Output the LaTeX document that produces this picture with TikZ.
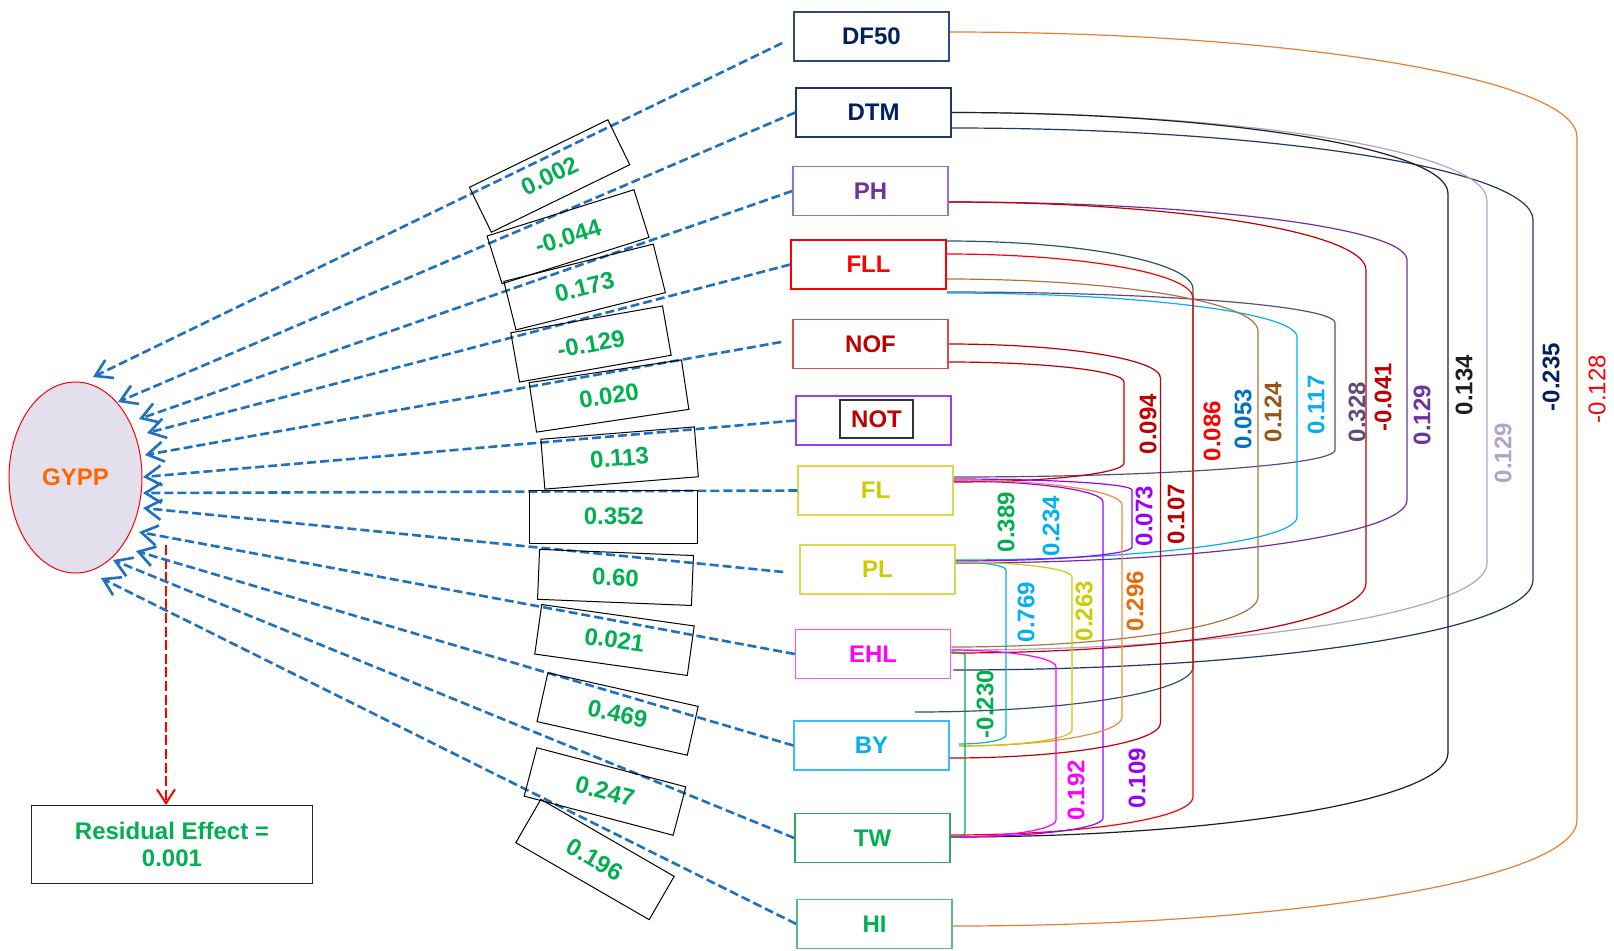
\documentclass[tikz,border=0pt]{standalone}
\usepackage{fontspec}
\setmainfont{Liberation Sans}
\usetikzlibrary{arrows.meta,calc,shapes.geometric}

\definecolor{cblue}{RGB}{30,112,192}
\definecolor{cgreen}{RGB}{0,176,80}
\definecolor{cnavy}{RGB}{0,32,96}
\definecolor{cnavyb}{RGB}{47,74,122}
\definecolor{cnavyl}{RGB}{31,56,100}
\definecolor{cpurple}{RGB}{112,48,160}
\definecolor{cpurpleb}{RGB}{153,112,204}
\definecolor{cdred}{RGB}{192,0,0}
\definecolor{cnofb}{RGB}{210,80,80}
\definecolor{cviolet}{RGB}{153,0,255}
\definecolor{cnotb}{RGB}{160,60,255}
\definecolor{cyel}{RGB}{204,204,0}
\definecolor{cyelb}{RGB}{217,217,80}
\definecolor{cmag}{RGB}{255,0,255}
\definecolor{cmagb}{RGB}{255,80,255}
\definecolor{cltb}{RGB}{0,176,240}
\definecolor{cltbb}{RGB}{60,190,240}
\definecolor{ctwb}{RGB}{40,170,100}
\definecolor{chib}{RGB}{90,190,130}
\definecolor{corange}{RGB}{237,125,49}
\definecolor{corangeb}{RGB}{238,140,60}
\definecolor{corangelab}{RGB}{228,108,10}
\definecolor{clav}{RGB}{179,162,199}
\definecolor{cgrayp}{RGB}{96,74,123}
\definecolor{cbrown}{RGB}{175,115,60}
\definecolor{cbrownlab}{RGB}{151,84,20}
\definecolor{cteal}{RGB}{40,85,105}
\definecolor{cblk}{RGB}{30,30,30}
\definecolor{cmidblue}{RGB}{0,112,192}
\definecolor{cgypp}{RGB}{255,102,0}
\definecolor{cell}{RGB}{228,223,236}

% #1 colour, #2 start point, #3 offset, #4 end point, #5 offset, #6 x of vertical run, #7 top radius, #8 bottom radius
\newcommand\corr[8]{%
  \draw[corrline,#1] let \p1=($(#2)+(#3)$), \p2=($(#4)+(#5)$), \n1={#6*0.5pt}, \n2={#7*0.5pt}, \n3={#8*0.5pt} in
    (\p1) .. controls ({\x1+0.552*(\n1-\x1)},\y1) and (\n1,{\y1-0.448*\n2}) .. (\n1,{\y1-\n2})
    -- (\n1,{\y2+\n3}) .. controls (\n1,{\y2+0.448*\n3}) and ({\x2+0.552*(\n1-\x2)},\y2) .. (\p2);%
}

\tikzset{
  var/.style={draw, line width=0.75pt, minimum width=77.5pt, minimum height=24.5pt, inner sep=0pt,
    font=\fontsize{12}{14}\selectfont\bfseries},
  coef/.style={draw=black, line width=0.5pt, minimum width=77pt, minimum height=25pt, inner sep=0pt,
    text=cgreen, font=\fontsize{12}{14}\selectfont\bfseries},
  patharrow/.style={draw=cblue, line width=1.3pt, dash pattern=on 4.5pt off 2pt,
    -{Straight Barb[length=8pt,width=10pt]}},
  corrline/.style={line width=0.6pt},
  vlab/.style={rotate=90, inner sep=0pt, font=\fontsize{12}{14}\selectfont\bfseries},
}

\begin{document}
\begin{tikzpicture}[x=0.5pt,y=-0.5pt]
\useasboundingbox (0,0) rectangle (1614,950);

% ---- result variable
\node[ellipse, draw=red, fill=cell, line width=0.5pt, minimum width=66.5pt, minimum height=95.5pt,
  inner sep=0pt, text=cgypp, font=\fontsize{12}{14}\selectfont\bfseries] (GYPP) at (75.5,477.5) {GYPP};

% ---- trait boxes
\node[var, draw=cnavyb, text=cnavy] (DF50) at (871.5,36.5) {DF50};
\node[var, draw=cnavyl, text=cnavy] (DTM) at (873.5,112.5) {DTM};
\node[var, draw=cpurpleb, text=cpurple] (PH) at (870.5,191) {PH};
\node[var, draw=red, text=red] (FLL) at (868.5,264.5) {FLL};
\node[var, draw=cnofb, text=cdred] (NOF) at (870.5,344) {NOF};
\node[var, draw=cnotb] (NOT) at (873.5,420.5) {};
\node[draw=black!80, line width=0.6pt, minimum width=36.5pt, minimum height=19pt, inner sep=0pt,
  text=cdred, font=\fontsize{12}{14}\selectfont\bfseries] (NOTlabel) at (876.5,419) {NOT};
\node[var, draw=cyelb, text=cyel] (FL) at (875.5,490.5) {FL};
\node[var, draw=cyelb, text=cyel] (PL) at (877.5,569.5) {PL};
\node[var, draw=cmagb, text=cmag] (EHL) at (873,654) {EHL};
\node[var, draw=cltbb, text=cltb] (BY) at (871.5,745.5) {BY};
\node[var, draw=ctwb, text=cgreen] (TW) at (872.5,838) {TW};
\node[var, draw=chib, text=cgreen] (HI) at (874.5,924) {HI};

% ---- residual
\node[draw=black!85, line width=0.6pt, minimum width=140.5pt, minimum height=38.8pt, align=center,
  text=cgreen, font=\fontsize{12}{13.3}\selectfont\bfseries] (resid) at (172,844.5) {Residual Effect =\\0.001};
\coordinate (resstart) at (166,545);
\draw[red, line width=1pt, dash pattern=on 5pt off 1.8pt, -{Straight Barb[length=7pt,width=9pt]}]
  (resstart) -- (resstart |- resid.north);

% ---- arrow tips on GYPP
\coordinate (g1) at (93,377);
\coordinate (g2) at (118,402);
\coordinate (g3) at (139,419);
\coordinate (g4) at (147,433);
\coordinate (g5) at (145,455);
\coordinate (g6) at (143,477);
\coordinate (g7) at (143,493);
\coordinate (g8) at (143,508);
\coordinate (g9) at (139,532);
\coordinate (g10) at (136,551);
\coordinate (g11) at (113,560);
\coordinate (g12) at (101,578);

\draw[patharrow] ($(DF50.west)+(-11,6.5)$) -- (g1);
\draw[patharrow] (DTM.west) -- (g2);
\draw[patharrow] (PH.west) -- (g3);
\draw[patharrow] (FLL.west) -- (g4);
\draw[patharrow] ($(NOF.west)+(-11,-2)$) -- (g5);
\draw[patharrow] (NOT.west) -- (g6);
\draw[patharrow] (FL.west) -- (g7);
\draw[patharrow] ($(PL.west)+(-16,2.5)$) -- (g8);
\draw[patharrow] (EHL.west) -- (g9);
\draw[patharrow] (BY.west) -- (g10);
\draw[patharrow] (TW.west) -- (g11);
\draw[patharrow] (HI.west) -- (g12);

% ---- direct effect labels
\node[coef, rotate=26] (c1) at (549.6,176) {0.002};
\node[coef, rotate=17.5] (c2) at (568,236.7) {-0.044};
\node[coef, rotate=14] (c3) at (584.6,287) {0.173};
\node[coef, rotate=10] (c4) at (591,344) {-0.129};
\node[coef, rotate=8.5] (c5) at (609,396) {0.020};
\node[coef, rotate=4.6] (c6) at (619.6,458) {0.113};
\node[coef, minimum width=84pt, minimum height=26.5pt] (c7) at (613.8,516.7) {0.352};
\node[coef, rotate=-2.3] (c8) at (615.5,577.4) {0.60};
\node[coef, rotate=-8] (c9) at (614.5,640) {0.021};
\node[coef, rotate=-12.6] (c10) at (617.6,714) {0.469};
\node[coef, rotate=-14.7] (c11) at (605,791.5) {0.247};
\node[coef, rotate=-30] (c12) at (595,859.5) {0.196};

% ---- correlation connectors
\coordinate (tealend) at (915,712);
\corr{corange}{DF50.east}{0,-4.5}{HI.east}{0,2}{1577}{105}{106}
\corr{cnavyl}{DTM.east}{0,15.5}{EHL.east}{2,16}{1533}{92}{90}
\corr{clav}{DTM.east}{0,0}{EHL.east}{0,-4}{1487}{88}{87}
\corr{cblk}{DTM.east}{0,0}{TW.east}{0,-1}{1448}{81}{84}
\corr{cpurple}{PH.east}{0,11}{PL.east}{0,-6.5}{1407}{58}{63}
\corr{cdred}{PH.east}{0,11}{EHL.east}{0,-1}{1366}{68}{70}
\corr{cgrayp}{FLL.east}{0,27.5}{FL.east}{0,-13.5}{1335}{31}{27}
\corr{cltb}{FLL.east}{0,28.5}{PL.east}{0,-9.5}{1297}{44}{43}
\corr{cbrown}{FLL.east}{0,14.5}{EHL.east}{0,-7}{1258}{52}{50}
\corr{cteal}{FLL.east}{0,-23.5}{tealend}{0,0}{1193}{48}{45}
\corr{red}{FLL.east}{0,-10.5}{TW.east}{0,-3}{1193}{44}{38}
\corr{cdred}{NOF.east}{0,0}{BY.east}{0,12.5}{1160.5}{34}{35}
\corr{cdred}{NOF.east}{0,18}{FL.east}{0,-8.5}{1124}{20}{19}
\corr{cviolet}{FL.east}{0,-11.5}{PL.east}{0,-8.5}{1132}{11}{14}
\corr{cviolet}{FL.east}{0,-9.5}{TW.east}{0,-1}{1103}{21}{19}
\corr{corangeb}{FL.east}{0,-10.5}{BY.east}{9,0.5}{1122}{25}{29}
\corr{cltb}{PL.east}{0,-7.5}{BY.east}{9,-1.5}{1006}{8}{9}
\corr{cyel}{PL.east}{0,-7.5}{BY.east}{9,0.5}{1072}{15}{16}
\corr{cmag}{EHL.east}{0,-4}{TW.east}{0,-1}{1056}{17}{17}
\corr{cgreen}{EHL.east}{0,-2}{TW.east}{0,-1}{965}{3}{4}

% ---- correlation labels
\node[vlab, text=cdred] (l1) at (1148,424) {0.094};
\node[vlab, text=red] (l2) at (1212,431) {0.086};
\node[vlab, text=cmidblue] (l3) at (1243,419) {0.053};
\node[vlab, text=cbrownlab] (l4) at (1273,412) {0.124};
\node[vlab, text=cltb] (l5) at (1316,405) {0.117};
\node[vlab, text=cgrayp] (l6) at (1357,412) {0.328};
\node[vlab, text=cdred] (l7) at (1383,397) {-0.041};
\node[vlab, text=cpurple] (l8) at (1422,415) {0.129};
\node[vlab, text=cblk] (l9) at (1464,385) {0.134};
\node[vlab, text=clav] (l10) at (1503,453) {0.129};
\node[vlab, text=cnavy] (l11) at (1551,377) {-0.235};
\node[vlab, text=red, font=\fontsize{12}{14}\selectfont] (l12) at (1597,389) {-0.128};
\node[vlab, text=cgreen] (l13) at (1006,522) {0.389};
\node[vlab, text=cltb] (l14) at (1051,526) {0.234};
\node[vlab, text=cviolet] (l15) at (1144,516) {0.073};
\node[vlab, text=cdred] (l16) at (1176,514) {0.107};
\node[vlab, text=cltb] (l17) at (1026,612) {0.769};
\node[vlab, text=cyel] (l18) at (1084,611) {0.263};
\node[vlab, text=corangelab] (l19) at (1135,601) {0.296};
\node[vlab, text=cgreen] (l20) at (985,704) {-0.230};
\node[vlab, text=cmag] (l21) at (1076,790) {0.192};
\node[vlab, text=cviolet] (l22) at (1137,778) {0.109};
\end{tikzpicture}
\end{document}
